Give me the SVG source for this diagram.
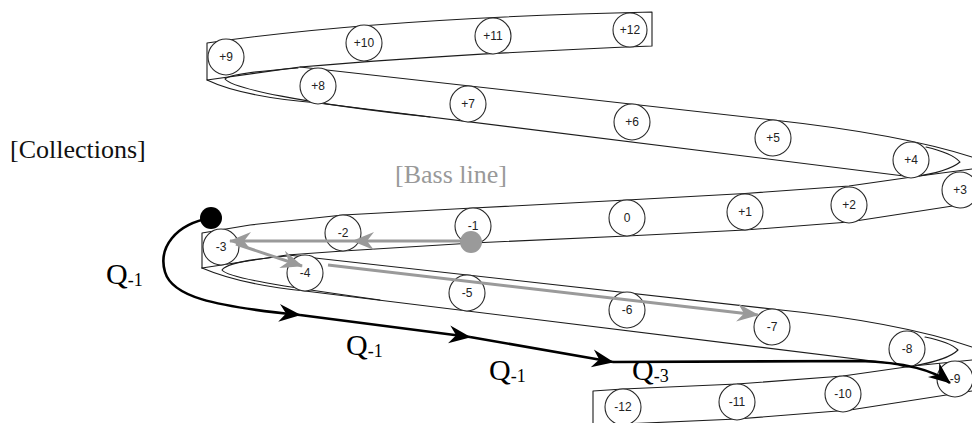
<svg xmlns="http://www.w3.org/2000/svg" width="972" height="423" viewBox="0 0 972 423">
<defs>
<style>
.band{fill:none;stroke:#1c1c1c;stroke-width:1.1;stroke-linejoin:round;stroke-linecap:round}
.node circle{fill:#fff;stroke:#2a2a2a;stroke-width:1.1}
.node text{font-family:"Liberation Sans",Arial,sans-serif;font-size:12px;fill:#222;text-anchor:middle}
.blk{fill:none;stroke:#000;stroke-width:2.6}
.gry{fill:none;stroke:#9a9a9a;stroke-width:3}
.lbl{font-family:"Liberation Serif","Times New Roman",serif}
</style>
<marker id="ahB" markerUnits="userSpaceOnUse" viewBox="-24 -12 26 24" markerWidth="26" markerHeight="24" refX="0" refY="0" orient="auto" overflow="visible"><path d="M1,0 L-21,-9 L-14,0 L-21,9 Z" fill="#000"/></marker>
<marker id="ahG" markerUnits="userSpaceOnUse" viewBox="-24 -12 26 24" markerWidth="26" markerHeight="24" refX="0" refY="0" orient="auto" overflow="visible"><path d="M1,0 L-21,-9 L-14,0 L-21,9 Z" fill="#9a9a9a"/></marker>
</defs>
<rect width="972" height="423" fill="#fff"/>
<g id="helix" class="band">
<path d="M207,43 Q380,18 652,12 L652,46 Q450,54 300,67 L207,80 Z"/>
<path d="M207,80 C232,92 270,99 318,103 L912,177"/>
<path d="M300,67 L773,120 Q900,134 972,157"/>
<path d="M298,68 C260,71 230,74 225,79 C232,88 300,103 430,117"/>
<path d="M926,147 Q952,153 960,162 Q948,172 912,177"/>
<path d="M972,169 L912,177 L849,186 L745,193.5 L627,200 L473,208 L343,215 L250,225 L202,233 L202,268"/>
<path d="M972,203 L849,222 L745,230 L627,236 L473,243 L343,251 L287,255 L202,268"/>
<path d="M202,268 C230,280 265,287 305,291 L913,366"/>
<path d="M288,255 L772,309 Q900,322 972,347"/>
<path d="M288,256 C250,259 226,264 222,270 C228,278 280,286 380,300"/>
<path d="M925,337 Q950,342 958,350 Q948,360 913,366"/>
<path d="M972,360 L913,366 L843,376 L737,384 L623,389 L593,391 L593,423"/>
<path d="M972,391 L850,410 L737,419 L623,424"/>
</g>
<g id="n-p9" class="node"><circle cx="226" cy="57" r="18"/><text x="226" y="61">+9</text></g>
<g id="n-p10" class="node"><circle cx="364" cy="43" r="18"/><text x="364" y="47">+10</text></g>
<g id="n-p11" class="node"><circle cx="493" cy="36" r="18"/><text x="493" y="40">+11</text></g>
<g id="n-p12" class="node"><circle cx="630" cy="30" r="17"/><text x="630" y="34">+12</text></g>
<g id="n-p8" class="node"><circle cx="318" cy="86" r="18"/><text x="318" y="90">+8</text></g>
<g id="n-p7" class="node"><circle cx="468" cy="104" r="18"/><text x="468" y="108">+7</text></g>
<g id="n-p6" class="node"><circle cx="632" cy="122" r="18"/><text x="632" y="126">+6</text></g>
<g id="n-p5" class="node"><circle cx="773" cy="138" r="18"/><text x="773" y="142">+5</text></g>
<g id="n-p4" class="node"><circle cx="911" cy="160" r="18"/><text x="911" y="164">+4</text></g>
<g id="n-p3" class="node"><circle cx="960" cy="190" r="18"/><text x="960" y="194">+3</text></g>
<g id="n-p2" class="node"><circle cx="849" cy="205" r="18"/><text x="849" y="209">+2</text></g>
<g id="n-p1" class="node"><circle cx="745" cy="212" r="18"/><text x="745" y="216">+1</text></g>
<g id="n-0" class="node"><circle cx="627" cy="218" r="18"/><text x="627" y="222">0</text></g>
<g id="n-m1" class="node"><circle cx="473" cy="226" r="18"/><text x="473" y="230">-1</text></g>
<g id="n-m2" class="node"><circle cx="343" cy="233" r="18"/><text x="343" y="237">-2</text></g>
<g id="n-m3" class="node"><circle cx="221" cy="247" r="18"/><text x="221" y="251">-3</text></g>
<g id="n-m4" class="node"><circle cx="305" cy="273" r="18"/><text x="305" y="277">-4</text></g>
<g id="n-m5" class="node"><circle cx="467" cy="293" r="18"/><text x="467" y="297">-5</text></g>
<g id="n-m6" class="node"><circle cx="627" cy="310" r="18"/><text x="627" y="314">-6</text></g>
<g id="n-m7" class="node"><circle cx="772" cy="327" r="18"/><text x="772" y="331">-7</text></g>
<g id="n-m8" class="node"><circle cx="907" cy="349" r="18"/><text x="907" y="353">-8</text></g>
<g id="n-m9" class="node"><circle cx="955" cy="379" r="18"/><text x="955" y="383">-9</text></g>
<g id="n-m10" class="node"><circle cx="843" cy="394" r="18"/><text x="843" y="398">-10</text></g>
<g id="n-m11" class="node"><circle cx="737" cy="402" r="18"/><text x="737" y="406">-11</text></g>
<g id="n-m12" class="node"><circle cx="623" cy="407" r="18"/><text x="623" y="411">-12</text></g>
<g id="connectors">
<path class="gry" d="M471,241 L353,241" marker-end="url(#ahG)"/>
<path class="gry" d="M353,241 L230,241" marker-end="url(#ahG)"/>
<path class="gry" d="M236,244 L302,266" marker-end="url(#ahG)"/>
<path class="gry" d="M328,265 L758,315" marker-end="url(#ahG)"/>
<circle cx="471" cy="242" r="11" fill="#9a9a9a"/>
<path class="blk" d="M211,218 C175,224 158,248 165,272 C172,296 210,306 300,315" marker-end="url(#ahB)"/>
<path class="blk" d="M300,315 L470,337" marker-end="url(#ahB)"/>
<path class="blk" d="M470,337 L613,362" marker-end="url(#ahB)"/>
<path class="blk" d="M613,362 L860,361 Q925,363 950,383" marker-end="url(#ahB)"/>
<circle cx="211" cy="218" r="11" fill="#000"/>
</g>
<g id="labels" class="lbl">
<text x="10" y="158" font-size="26" fill="#111">[Collections]</text>
<text x="395" y="183" font-size="26" fill="#999">[Bass line]</text>
<text x="106" y="284" font-size="30" fill="#000">Q<tspan font-size="18" dy="2">-1</tspan></text>
<text x="346" y="355" font-size="30" fill="#000">Q<tspan font-size="18" dy="2">-1</tspan></text>
<text x="489" y="380" font-size="30" fill="#000">Q<tspan font-size="18" dy="2">-1</tspan></text>
<text x="632" y="380" font-size="30" fill="#000">Q<tspan font-size="18" dy="2">-3</tspan></text>
</g>
</svg>
